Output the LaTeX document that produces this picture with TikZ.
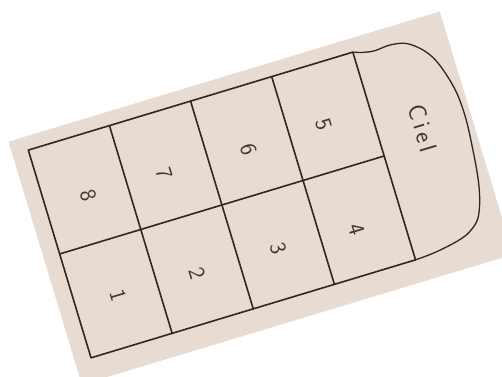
\documentclass[tikz,border=0pt]{standalone}
\usepackage{fontspec}
\begin{document}
\begin{tikzpicture}[x=1pt,y=1pt]
\definecolor{paper}{RGB}{232,219,209}
\definecolor{ink}{RGB}{45,40,37}
\definecolor{pencil}{RGB}{62,57,54}
\tikzset{
  gridline/.style={draw=ink, line width=1.6pt, line join=round, line cap=round},
  curveline/.style={draw=ink, line width=1.3pt, line cap=round},
  numlabel/.style={text=pencil, font=\sffamily\fontsize{23}{23}\selectfont, rotate=-73.2, inner sep=0pt}
}
\useasboundingbox (0,0) rectangle (502,376);
\fill[white] (0,0) rectangle (502,376);
\begin{scope}[shift={(28.3,225.9)}, rotate=16.8]
  \fill[paper] (-16.5,13.8) rectangle (434,-240);
  % grid
  \coordinate (tl) at (0,0);
  \coordinate (br) at (339,-217);
  \draw[gridline] (tl) rectangle (br);
  \coordinate (ml) at (0,-108.5);
  \coordinate (mr) at (339,-108.5);
  \draw[gridline] (ml) -- (mr);
  \foreach \i/\a in {1/84.75,2/169.5,3/254.25}{
    \coordinate (vt\i) at (\a,0);
    \coordinate (vb\i) at (\a,-217);
    \draw[gridline] (vt\i) -- (vb\i);
  }
  % ciel
  \draw[curveline] plot[smooth, tension=0.6] coordinates {
    (339,0) (348,-3) (360,-5) (378,-4) (396,-9) (414,-28) (425,-60) (428,-90)
    (426,-125) (421,-165) (412,-193) (400,-205) (385,-211) (360,-215.5) (339,-217)};
  % labels
  \node[numlabel] (n8) at (44,-61) {8};
  \node[numlabel] (n7) at (123,-62) {7};
  \node[numlabel] (n6) at (211,-63) {6};
  \node[numlabel] (n5) at (290,-61) {5};
  \node[numlabel] (n1) at (44,-165) {1};
  \node[numlabel] (n2) at (126,-167) {2};
  \node[numlabel] (n3) at (211,-166) {3};
  \node[numlabel] (n4) at (291,-171) {4};
  \node[numlabel, font=\sffamily\fontsize{25}{25}\selectfont] (ciel) at (384,-93) {C\kern4pt i\kern4pt e\kern4pt l};
\end{scope}
\end{tikzpicture}
\end{document}
